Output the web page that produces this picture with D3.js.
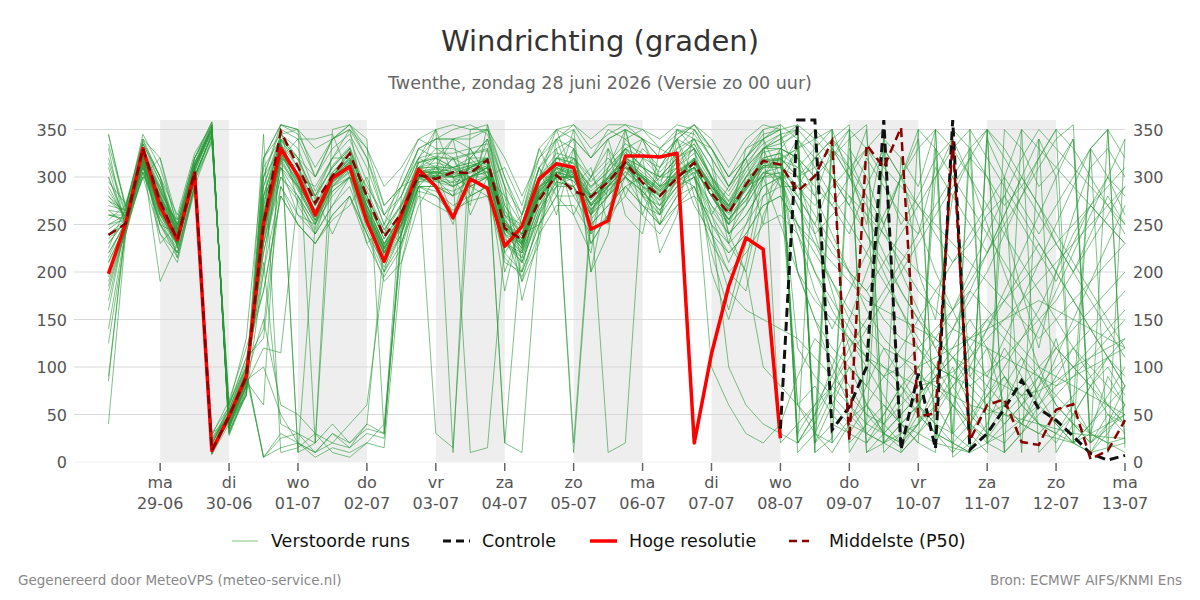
<!DOCTYPE html>
<html>
<head>
<meta charset="utf-8">
<script src="https://cdn.jsdelivr.net/npm/d3@7"></script>
<style>
  body { margin: 0; background: #fff; }
  svg { font-family: "DejaVu Sans", sans-serif; }
</style>
</head>
<body>
<div id="chart"></div>
<script>
// 6-hourly steps from 28-06 06:00
const stepCount = 60;

const hiRes = [198,251,330,269,234,304,12,48,90,251, 330,301,260,299,311,253,211,260,308,290,
  257,298,288,227,248,298,314,310,245,254, 322,322,321,325,20,114,185,236,224,25];

const median = [239,251,330,274,234,306,12,48,90,250, 348,311,273,301,325,280,237,262,302,298,
  305,304,318,246,234,276,302,285,279,295, 315,294,280,299,315,283,262,292,317,313,
  285,301,338,23,334,310,352,48,51,338, 23,60,66,21,18,55,61,3,12,44];

const control = [null,null,null,null,null,null,null,null,null,null, null,null,null,null,null,null,null,null,null,null,
  null,null,null,null,null,null,null,null,null,null, null,null,null,null,null,null,null,null,null,35,
  360,360,34,58,100,360,13,93,14,360, 13,30,56,86,56,44,27,9,2,7];

const members = [
  [210,250,330,280,240,310,352,40,85,260, 335,295,260,305,320,270,230,250,300,310, 340,260,300,180,260,330,290,350,200,240, 350,280,250,340,300,220,160,230,330,345, 300,280,330,310,250,340,320,200,150,280, 320,300,250,180,120,200,260,310,330,300],
  [275,260,315,265,230,300,20,50,95,240, 320,305,270,295,310,255,215,260,310,300, 295,310,320,245,235,290,305,295,280,290, 310,295,280,300,310,280,255,280,310,320, 330,350,20,45,60,30,15,40,80,60, 40,25,50,70,90,60,40,20,35,50],
  [180,245,340,300,225,320,355,30,75,280, 345,320,280,310,330,280,240,270,315,320, 310,315,305,260,240,300,320,310,290,305, 330,310,300,320,335,300,280,310,330,340, 355,10,25,350,330,300,250,280,320,340, 300,250,200,150,100,60,40,30,20,25],
  [290,255,305,260,245,295,25,55,100,220, 310,280,250,290,305,250,210,245,295,295, 290,300,300,240,220,270,300,300,265,285, 305,290,270,295,305,270,250,270,300,305, 290,260,230,200,180,150,130,120,100,90, 80,95,110,130,150,170,200,230,260,290],
  [40,240,320,270,235,305,15,45,90,5, 25,30,10,20,15,30,25,240,300,290, 280,300,305,235,210,265,295,290,260,280, 300,285,260,285,300,260,230,250,280,290, 60,80,50,30,20,40,70,100,60,30, 15,40,80,110,70,40,20,10,30,60],
  [345,265,325,285,250,315,350,35,80,300, 350,340,300,340,350,320,260,290,320,340, 340,345,350,300,260,320,340,350,320,340, 350,340,320,340,355,330,300,330,350,355, 20,40,340,320,280,10,30,350,330,5, 20,340,300,350,10,30,60,330,350,15],
  [230,255,310,250,225,290,10,50,90,250, 330,300,265,300,315,265,225,255,305,305, 260,320,340,290,170,240,330,260,300,340, 280,320,220,260,350,320,240,200,280,300, 280,250,300,270,320,290,260,240,310,280, 250,220,260,300,270,230,200,240,280,250],
  [200,250,300,240,210,290,18,60,110,130, 290,260,240,270,290,240,200,230,290,285, 270,280,290,220,200,250,280,280,250,270, 290,270,250,280,290,240,220,240,270,280, 250,230,210,190,170,160,150,140,130,110, 100,90,80,70,75,85,100,110,120,130],
  [250,260,335,295,240,310,355,35,85,270, 340,10,20,300,325,275,235,265,315,320, 320,325,330,265,240,295,320,315,290,310, 330,320,300,320,335,300,275,305,330,335, 345,20,60,100,80,340,20,50,300,340, 90,120,60,40,80,130,60,30,90,60],
  [220,250,325,275,235,305,30,45,85,240, 325,290,255,295,310,260,220,250,300,300, 320,280,290,220,250,310,260,330,240,310, 330,260,310,340,280,260,290,320,250,330, 320,300,270,240,290,330,300,270,240,210, 230,260,280,250,220,190,230,270,300,280],
  [140,245,315,265,230,300,345,45,95,5, 15,20,5,15,10,20,40,230,295,300, 300,10,15,230,215,275,305,10,255,280, 300,285,265,290,305,250,100,60,40,30, 20,50,80,60,40,30,50,70,90,110, 80,60,40,60,90,120,100,80,50,40],
  [300,255,320,280,245,310,14,42,88,290, 340,320,280,310,330,280,245,270,310,310, 310,320,320,260,235,295,315,310,285,300, 320,310,290,310,330,300,270,300,320,325, 310,330,350,300,260,220,180,150,120,140, 170,200,240,280,320,350,330,300,270,240],
  [260,255,330,290,240,310,352,38,82,120, 115,280,250,290,310,260,220,255,305,310, 305,300,310,250,225,285,305,300,270,295, 315,300,285,300,315,290,265,290,315,320, 300,240,180,120,60,30,20,40,70,100, 60,30,20,40,70,110,150,190,230,270],
  [85,250,320,190,230,300,22,55,100,220, 300,275,245,285,300,245,205,240,290,290, 285,295,300,235,215,265,295,290,260,280, 300,285,265,290,300,265,240,260,290,300, 330,20,350,10,40,330,300,340,20,60, 30,10,350,330,290,310,340,20,50,30],
  [270,265,345,310,250,320,358,28,72,300, 355,350,20,350,355,340,30,280,320,350, 10,350,355,300,250,310,340,355,330,345, 355,340,330,345,355,340,310,340,355,350, 10,30,20,330,300,250,200,160,120,80, 50,30,60,100,140,180,220,260,300,340],
  [240,250,305,255,220,295,8,48,92,210, 40,30,20,40,20,35,30,250,300,30, 15,300,310,245,225,280,305,20,265,290, 310,290,275,295,310,280,255,275,305,300, 270,240,260,280,240,200,160,120,90,60, 40,70,100,130,160,200,240,270,250,230],
  [315,260,318,282,238,306,10,44,86,255, 330,298,258,298,314,262,222,252,302,302, 300,304,312,248,228,282,310,302,272,292, 312,298,282,302,314,286,262,288,312,312, 290,320,340,310,280,250,300,330,350,10, 30,60,90,70,40,20,50,80,110,90],
  [190,245,335,300,235,315,355,32,78,290, 345,330,285,320,340,295,250,280,320,325, 325,330,335,270,245,300,325,320,295,315, 335,325,305,325,340,310,285,315,335,345, 350,330,300,270,240,210,180,150,130,110, 90,70,50,40,30,25,20,30,40,50],
  [335,270,330,295,245,310,350,38,80,270, 340,10,250,300,320,270,230,260,310,315, 310,315,320,20,235,290,315,310,280,300, 320,305,290,310,325,295,270,295,320,325, 20,50,100,150,200,250,300,350,20,60, 100,140,180,220,260,300,340,10,40,80],
  [250,255,325,260,228,302,15,46,90,245, 320,288,252,292,306,256,218,248,298,298, 280,330,300,260,200,300,340,290,230,260, 300,340,300,320,330,200,150,210,300,320, 60,30,10,40,80,120,90,60,30,20, 40,80,120,90,60,40,20,10,15,20],
  [125,240,310,250,215,285,28,65,120,180, 280,250,230,260,280,230,195,225,285,280, 265,275,280,215,195,240,270,270,240,260, 280,260,240,270,280,230,200,220,250,260, 240,200,160,130,110,100,90,80,85,95, 110,130,150,170,190,210,230,250,270,290],
  [280,258,322,278,242,308,350,40,85,265, 335,310,270,305,325,275,235,262,308,312, 308,312,318,255,232,288,312,305,282,298, 318,302,288,305,318,292,268,292,318,318, 310,290,270,300,330,350,10,30,50,80, 110,140,170,200,230,200,170,140,110,80],
  [170,248,328,270,232,304,20,50,92,275, 328,292,262,302,318,264,226,256,304,306, 300,306,312,250,228,284,308,302,276,294, 314,300,284,304,316,288,264,286,312,314, 200,170,150,130,110,90,100,120,140,160, 180,160,140,120,100,90,80,70,60,50],
  [235,252,318,268,236,304,12,46,88,235, 322,296,258,296,312,262,224,254,300,302, 302,308,314,252,230,284,306,300,272,294, 312,298,282,302,316,286,262,286,312,310, 340,310,280,250,220,190,160,130,100,70, 40,20,10,350,330,310,290,270,250,230],
  [210,250,312,262,230,298,338,52,96,5, 30,20,10,30,15,40,230,258,306,304, 304,310,316,252,232,286,310,304,278,296, 316,302,286,306,318,290,266,290,316,318, 330,340,350,20,40,60,40,20,350,330, 300,270,240,210,180,150,120,90,60,40],
  [260,256,326,284,242,312,352,36,80,280, 338,318,276,312,332,286,244,272,316,322, 318,324,328,264,238,294,320,314,288,306, 326,312,296,316,330,298,274,300,326,330, 320,300,60,40,30,50,80,60,40,30, 50,70,90,60,40,30,50,80,100,70],
  [195,248,316,266,230,302,16,48,90,250, 326,292,260,300,316,262,224,254,302,304, 310,290,340,270,240,250,280,320,300,330, 300,270,260,330,340,310,240,270,330,290, 290,270,290,310,330,310,290,270,250,230, 210,190,170,150,130,150,170,190,210,230],
  [320,262,328,288,244,312,352,40,84,262, 334,302,264,302,318,268,228,258,306,308, 306,312,318,254,232,288,312,306,280,298, 318,302,288,306,320,292,268,292,318,320, 300,320,340,355,10,20,30,40,330,300, 270,240,210,180,150,120,100,80,60,40],
  [90,246,314,264,228,300,24,50,94,230, 318,286,254,294,308,258,220,250,298,296, 294,300,306,244,222,278,302,296,266,286, 306,292,276,296,308,280,256,276,304,304, 120,90,70,50,30,20,40,60,90,120, 150,120,90,60,40,30,20,40,60,80],
  [285,258,322,276,240,306,348,42,86,258, 332,300,262,300,316,266,226,256,304,306, 304,310,316,252,230,286,310,304,276,296, 316,300,286,304,318,290,266,288,314,316, 280,250,220,200,180,210,240,270,300,330, 350,20,40,60,80,100,120,140,160,180],
  [330,245,300,280,215,290,340,60,130,320, 355,350,300,330,345,310,260,280,330,340, 350,355,345,290,210,260,300,330,230,260, 340,350,330,350,345,320,290,320,345,350, 30,60,90,130,100,70,40,20,10,350, 330,300,270,290,320,350,20,40,70,100],
  [275,265,320,250,240,300,345,40,70,200, 290,250,230,255,270,300,250,230,280,270, 260,280,330,200,250,310,280,260,220,330, 260,240,330,320,270,240,200,180,260,300, 240,180,140,180,220,260,300,250,200,160, 120,90,130,170,210,250,290,330,300,260],
  [255,270,325,230,250,315,18,55,105,140, 320,340,340,345,300,230,250,300,340,330, 330,320,340,280,190,230,340,330,300,320, 300,330,310,340,330,300,230,200,100,80, 60,40,80,120,150,180,210,240,270,300, 330,350,10,30,60,90,120,100,80,60],
  [300,250,310,275,255,320,350,35,95,300, 330,300,290,320,350,260,200,270,300,350, 300,270,355,240,260,300,350,300,260,310, 350,280,260,350,340,300,250,330,340,300, 250,200,170,140,110,90,70,50,30,20, 10,350,320,290,260,230,200,170,140,110],
  [215,255,318,290,250,310,8,40,80,345, 10,15,30,10,5,20,15,210,290,280, 260,290,300,210,200,250,320,340,200,290, 330,340,290,350,330,260,210,250,300,330, 350,30,70,100,60,40,20,60,100,140, 180,220,260,300,340,10,40,20,350,320],
  [265,262,322,262,236,300,342,45,85,60, 350,270,240,270,300,270,240,250,310,290, 250,320,300,280,250,270,310,280,300,280, 320,310,300,300,290,250,230,300,310,290, 330,20,40,30,60,90,120,150,180,210, 240,270,300,270,240,270,300,330,350,20],
  [245,258,312,256,228,296,336,62,100,200, 340,310,280,240,280,240,190,210,270,300, 320,290,280,240,220,300,300,290,310,250, 290,300,270,320,300,240,180,160,150,140, 130,110,90,70,50,40,60,80,100,90, 70,50,60,80,100,120,140,160,180,200],
  [225,268,338,300,260,325,355,30,75,310, 340,320,300,340,355,330,270,290,330,320, 340,330,300,310,270,330,350,340,320,350, 340,320,310,330,350,320,290,310,340,350, 20,350,330,300,270,240,210,180,160,140, 130,120,110,100,90,80,90,100,110,120],
  [265,250,300,320,245,315,350,38,88,280, 310,290,265,285,300,280,240,290,300,300, 290,310,320,260,250,280,300,300,270,280, 310,300,260,300,320,290,270,310,330,340, 350,10,330,300,350,20,320,290,350,30, 330,20,300,10,340,300,20,330,10,340],
  [185,245,320,240,220,290,20,52,98,230, 300,280,240,290,300,250,210,250,290,310, 300,290,300,230,220,270,290,300,260,290, 300,280,270,290,300,270,240,260,290,300, 200,150,100,60,30,20,10,30,60,90, 120,150,130,110,90,70,50,30,20,10],
  [295,272,335,300,245,300,345,45,70,320, 345,350,330,340,350,330,290,310,340,350, 355,350,350,320,280,320,350,355,340,355, 355,350,340,355,350,330,300,320,340,355, 340,320,300,280,260,240,220,200,180,160, 200,240,280,320,350,330,310,290,270,250],
  [160,250,325,280,232,305,352,42,90,150, 60,50,30,20,40,60,200,240,320,310, 290,300,320,20,10,250,290,310,270,10, 20,290,250,280,320,100,60,30,20,40, 90,130,110,80,50,30,20,40,60,80, 100,80,60,40,30,50,70,90,110,130],
  [240,255,330,270,238,305,12,46,88,280, 335,300,280,320,320,290,260,240,310,330, 320,310,300,240,190,260,320,320,260,300, 320,280,300,310,340,330,290,320,350,20, 40,60,80,110,140,170,200,230,260,290, 320,350,10,30,50,70,90,110,130,150],
  [310,248,318,268,240,308,348,48,90,250, 320,310,260,300,330,270,230,260,300,320, 310,300,310,230,240,290,300,320,280,300, 310,290,280,300,310,280,250,290,300,250, 200,150,120,100,80,60,40,30,20,15, 10,20,30,45,60,80,100,120,140,160],
  [280,262,328,286,248,314,350,40,80,230, 310,260,250,280,300,260,220,260,310,320, 300,310,320,250,240,280,310,300,280,300, 330,310,290,300,310,290,270,300,330,330, 320,280,240,200,160,130,110,90,80,70, 60,55,50,45,40,35,30,28,26,25],
  [220,252,322,276,234,302,16,44,86,100, 50,20,10,30,20,40,30,240,300,300, 290,300,310,240,230,280,300,300,270,290, 310,300,280,300,310,280,250,270,300,300, 280,300,320,340,355,20,40,60,40,20, 10,350,330,300,270,240,210,180,150,120],
  [260,260,315,260,230,300,345,48,92,260, 325,300,270,300,310,265,225,255,300,300, 300,300,310,245,230,280,300,300,270,290, 310,300,280,300,310,280,260,280,310,310, 270,230,190,150,120,100,80,100,130,160, 190,220,250,280,310,340,355,20,40,60],
  [200,240,305,250,220,290,30,58,110,180, 280,250,230,260,280,240,210,240,290,290, 280,290,300,230,210,260,290,290,250,270, 290,270,250,270,290,250,220,240,270,280, 250,220,190,160,140,120,110,100,110,120, 130,140,150,160,170,160,150,140,130,120],
  [345,268,340,320,255,320,358,32,70,320, 355,345,310,340,355,320,270,290,330,340, 340,340,350,290,260,310,330,340,320,340, 350,340,320,340,355,330,300,320,340,350, 355,340,320,350,20,50,80,50,30,10, 350,320,290,260,230,200,170,140,110,80],
  [230,254,316,266,234,302,344,46,88,240, 315,290,255,295,310,255,220,250,300,305, 300,305,310,245,225,280,305,300,270,290, 310,295,280,300,310,280,255,280,305,310, 300,310,330,350,10,30,50,70,90,110, 130,150,170,190,210,230,250,270,290,310]
];

const yTicks = [0, 50, 100, 150, 200, 250, 300, 350];
const dayNames = ["zo", "ma", "di", "wo", "do", "vr", "za"];

const width = 1200, height = 600;
const plot = { left: 74, right: 1125, top: 120, bottom: 462 };

const start = Date.UTC(2026, 5, 28, 6);
const times = d3.range(stepCount).map(i => new Date(start + i * 6 * 3600e3));

const svg = d3.select("#chart")
    .append("svg")
    .attr("width", width)
    .attr("height", height);

const x = d3.scaleUtc()
    .domain([new Date(Date.UTC(2026, 5, 27, 18)), new Date(Date.UTC(2026, 6, 13, 0))])
    .range([plot.left, plot.right]);

const y = d3.scaleLinear()
    .domain([0, 360])
    .range([plot.bottom, plot.top]);

const days = d3.utcDay.range(new Date(Date.UTC(2026, 5, 29)), new Date(Date.UTC(2026, 6, 13, 1)));

//shaded days
svg.append("g").selectAll("rect")
    .data(days.filter((d, i) => i % 2 === 0 && i < days.length - 1))
    .enter()
    .append("rect")
    .attr("x", d => x(d))
    .attr("y", plot.top)
    .attr("width", d => x(d3.utcDay.offset(d, 1)) - x(d))
    .attr("height", plot.bottom - plot.top)
    .attr("fill", "#eeeeee");

//grid
svg.append("g").selectAll("line")
    .data(yTicks)
    .enter()
    .append("line")
    .attr("x1", plot.left)
    .attr("x2", plot.right)
    .attr("y1", d => y(d))
    .attr("y2", d => y(d))
    .attr("stroke", d => d === 0 ? "#f0f0f0" : "#d9d9d9")
    .attr("stroke-width", 1);

//y labels left and right
const yLab = svg.append("g")
    .style("font-size", "16px")
    .style("fill", "#555");

yLab.selectAll("text.l")
    .data(yTicks)
    .enter()
    .append("text")
    .attr("x", 67)
    .attr("y", d => y(d) + 6)
    .attr("text-anchor", "end")
    .text(d => d);

yLab.selectAll("text.r")
    .data(yTicks)
    .enter()
    .append("text")
    .attr("x", 1133)
    .attr("y", d => y(d) + 6)
    .attr("text-anchor", "start")
    .text(d => d);

//x ticks
const xt = svg.append("g")
    .selectAll("g")
    .data(days)
    .enter()
    .append("g")
    .attr("transform", d => `translate(${x(d)},0)`);

xt.append("line")
    .attr("y1", plot.bottom + 1)
    .attr("y2", plot.bottom + 9)
    .attr("stroke", "#666")
    .attr("stroke-width", 1.5);

const xl = xt.append("text")
    .attr("text-anchor", "middle")
    .style("font-size", "16px")
    .style("fill", "#555");
xl.append("tspan").attr("x", 0).attr("y", 488).text(d => dayNames[d.getUTCDay()]);
xl.append("tspan").attr("x", 0).attr("y", 509).text(d => d3.utcFormat("%d-%m")(d));

const line = d3.line()
    .defined(d => d[1] != null)
    .x(d => x(d[0]))
    .y(d => y(d[1]));

const pairs = arr => arr.map((v, i) => [times[i], v]);

//ensemble members
svg.append("g").selectAll("path")
    .data(members)
    .enter()
    .append("path")
    .attr("d", d => line(pairs(d)))
    .attr("fill", "none")
    .attr("stroke", "#2a9a38")
    .attr("stroke-opacity", 0.6)
    .attr("stroke-width", 1);

svg.append("path")
    .attr("d", line(pairs(hiRes)))
    .attr("fill", "none")
    .attr("stroke", "#ff0000")
    .attr("stroke-width", 3.5)
    .attr("stroke-linejoin", "round");

svg.append("path")
    .attr("d", line(pairs(control)))
    .attr("fill", "none")
    .attr("stroke", "#111")
    .attr("stroke-width", 3)
    .attr("stroke-dasharray", "9,5");

svg.append("path")
    .attr("d", line(pairs(median)))
    .attr("fill", "none")
    .attr("stroke", "#8b0000")
    .attr("stroke-width", 2.5)
    .attr("stroke-dasharray", "9,5");

//title
svg.append("text")
    .attr("x", width / 2)
    .attr("y", 51)
    .attr("text-anchor", "middle")
    .style("font-size", "29px")
    .style("fill", "#333")
    .text("Windrichting (graden)");

svg.append("text")
    .attr("x", width / 2)
    .attr("y", 89)
    .attr("text-anchor", "middle")
    .style("font-size", "17.5px")
    .style("fill", "#666")
    .text("Twenthe, zondag 28 juni 2026 (Versie zo 00 uur)");

//legend
const legendItems = [
    { label: "Verstoorde runs", x: 232, color: "#7cc47c", w: 1, dash: null, len: 26 },
    { label: "Controle", x: 443, color: "#111", w: 3, dash: "8,5", len: 27 },
    { label: "Hoge resolutie", x: 590, color: "#ff0000", w: 3.5, dash: null, len: 27 },
    { label: "Middelste (P50)", x: 789, color: "#8b0000", w: 2.5, dash: "8,5", len: 20 }
];
const lg = svg.append("g").selectAll("g")
    .data(legendItems)
    .enter()
    .append("g");
lg.append("line")
    .attr("x1", d => d.x)
    .attr("x2", d => d.x + d.len)
    .attr("y1", 541)
    .attr("y2", 541)
    .attr("stroke", d => d.color)
    .attr("stroke-width", d => d.w)
    .attr("stroke-dasharray", d => d.dash);
lg.append("text")
    .attr("x", d => d.x + (d.len === 20 ? 40 : 39))
    .attr("y", 547)
    .style("font-size", "17.5px")
    .style("fill", "#111")
    .text(d => d.label);

//footer
svg.append("text")
    .attr("x", 18)
    .attr("y", 585)
    .style("font-size", "13.5px")
    .style("fill", "#888")
    .text("Gegenereerd door MeteoVPS (meteo-service.nl)");

svg.append("text")
    .attr("x", 1182)
    .attr("y", 585)
    .attr("text-anchor", "end")
    .style("font-size", "13.5px")
    .style("fill", "#888")
    .text("Bron: ECMWF AIFS/KNMI Ens");
</script>
</body>
</html>
